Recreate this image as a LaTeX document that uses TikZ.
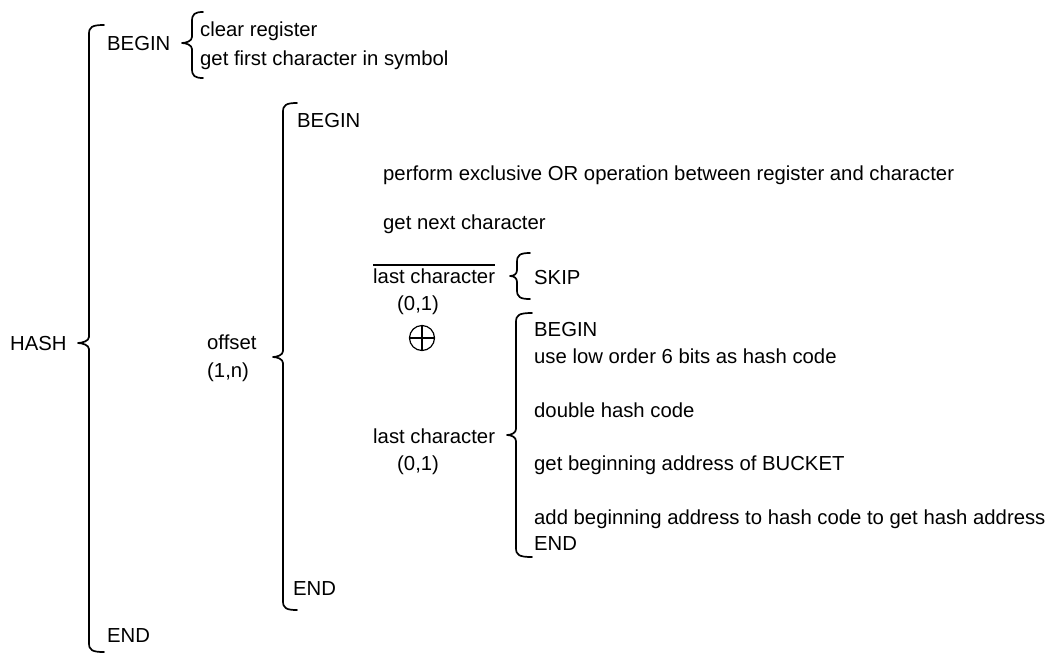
\documentclass[tikz,border=0pt]{standalone}
\usepackage{fontspec}
\setmainfont{Liberation Sans}
\tikzset{
  txt/.style={anchor=base west, inner sep=0pt, font=\fontsize{20.3}{24}\selectfont},
  bracestyle/.style={line width=1.7pt, line cap=round, line join=round},
}
\newcommand{\wbrace}[6]{% #1 x, #2 ytop, #3 ybot, #4 xtip, #5 ytip, #6 xhook
  \draw[bracestyle] (#6,#2) .. controls ({#1+3},#2) and (#1,{#2+2}) .. (#1,{#2+9})
    -- (#1,{#5-6}) .. controls (#1,{#5-2}) and ({#4+4},#5) .. (#4,#5)
    .. controls ({#4+4},#5) and (#1,{#5+2}) .. (#1,{#5+6})
    -- (#1,{#3-9}) .. controls (#1,{#3-2}) and ({#1+3},#3) .. (#6,#3);}
\begin{document}
\begin{tikzpicture}[x=1pt,y=-1pt]
\fill[white] (0,0) rectangle (1051,654);
\useasboundingbox (0,0) rectangle (1051,654);
% outer level
\node[txt] (hash) at (10,350) {HASH};
\wbrace{89}{25}{652}{78}{343}{104}
\node[txt] (begin1) at (107,50) {BEGIN};
\wbrace{192}{12}{78}{182}{43}{203}
\node[txt] (clr) at (200,36) {clear register};
\node[txt] (gfc) at (200,65) {get first character in symbol};
\node[txt] (end1) at (107,642) {END};
% offset level
\node[txt] (off) at (207,349) {offset};
\node[txt] (offn) at (207,377) {(1,n)};
\wbrace{283}{103}{610}{273}{357}{297}
\node[txt] (begin2) at (297,127) {BEGIN};
\node[txt] (perf) at (383,180) {perform exclusive OR operation between register and character};
\node[txt] (gnc) at (383,229) {get next character};
\node[txt] (lc1) at (373,283) {last character};
\draw[line width=1.2pt] ([yshift=3pt]lc1.north west) -- ([yshift=3pt]lc1.north east);
\node[txt] (p01a) at (397,310) {(0,1)};
\node[circle, draw, line width=1.2pt, minimum size=25pt, inner sep=0pt] (xor) at (422,338) {};
\draw[line width=1.2pt] (xor.north) -- (xor.south) (xor.west) -- (xor.east);
\wbrace{517}{253}{299}{510}{276}{530}
\node[txt] (skip) at (534,284) {SKIP};
\node[txt] (lc2) at (373,443) {last character};
\node[txt] (p01b) at (397,470) {(0,1)};
\wbrace{516}{313}{557}{507}{435}{532}
\node[txt] (begin3) at (534,336) {BEGIN};
\node[txt] (ulo) at (534,363) {use low order 6 bits as hash code};
\node[txt] (dhc) at (534,417) {double hash code};
\node[txt] (gba) at (534,470) {get beginning address of BUCKET};
\node[txt] (aba) at (534,524) {add beginning address to hash code to get hash address};
\node[txt] (end3) at (534,550) {END};
\node[txt] (end2) at (293,595) {END};
\end{tikzpicture}
\end{document}
